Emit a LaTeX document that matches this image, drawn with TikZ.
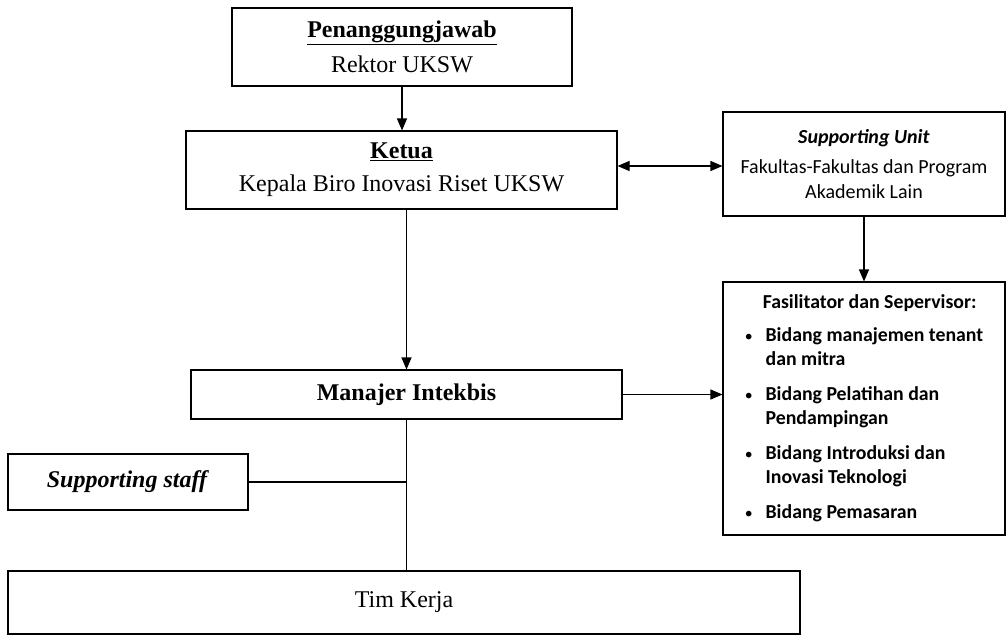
\documentclass[tikz,border=0pt]{standalone}
\usepackage{fontspec}
\setmainfont{Liberation Serif}
\newfontfamily\calfont{Carlito}
\usetikzlibrary{arrows.meta,calc}
\newcommand{\smallbul}{{\mdseries\scalebox{0.8}{•}}}
\begin{document}
\begin{tikzpicture}[x=1pt,y=-1pt,
  box/.style={draw, line width=1.1pt, rectangle, inner sep=0pt, align=center},
  arr/.style={line width=1.1pt, -{Triangle[length=12pt,width=10pt]}},
  arrboth/.style={line width=1.1pt, {Triangle[length=12pt,width=10pt]}-{Triangle[length=12pt,width=10pt]}},
  link/.style={line width=1.1pt},
  serif/.style={font=\fontsize{24}{33}\selectfont},
  calib/.style={font=\calfont\fontsize{20}{25}\selectfont},
]
\useasboundingbox (0,0) rectangle (1007,637);

\node[box, serif, minimum width=340pt, minimum height=78pt] (pj) at (402,47)
  {\underline{\textbf{Penanggungjawab}}\\[2pt]Rektor UKSW};
\node[box, serif, minimum width=431pt, minimum height=78pt] (ketua) at (401.5,170)
  {\underline{\textbf{Ketua}}\\Kepala Biro Inovasi Riset UKSW};
\node[box, calib, minimum width=282pt, minimum height=104pt] (su) at (864,164)
  {\textbf{\textit{Supporting Unit}}\\[5pt]Fakultas-Fakultas dan Program\\Akademik Lain};
\node[box, minimum width=282pt, minimum height=253pt,
      font=\calfont\bfseries\fontsize{19.8}{24}\selectfont] (fas) at (864,408.5)
  {\begin{tabular}{@{}c@{\hspace{13pt}}l@{}}
   \multicolumn{2}{@{}l@{}}{\hspace*{18pt}Fasilitator dan Sepervisor:}\\[9pt]
   \smallbul&Bidang manajemen tenant\\
    &dan mitra\\[11pt]
   \smallbul&Bidang Pelatihan dan\\
    &Pendampingan\\[11pt]
   \smallbul&Bidang Introduksi dan\\
    &Inovasi Teknologi\\[11pt]
   \smallbul&Bidang Pemasaran
   \end{tabular}};
\node[box, serif, minimum width=431pt, minimum height=49pt] (man) at (406.5,394.5)
  {\textbf{Manajer Intekbis}};
\node[box, serif, minimum width=240pt, minimum height=56pt] (ss) at (128,482)
  {\textbf{\textit{Supporting staff}}};
\node[box, serif, minimum width=792pt, minimum height=63pt] (tk) at (404,602.5)
  {Tim Kerja};

\draw[arr] (pj.south) -- (pj.south |- ketua.north);
\draw[arrboth] ([yshift=4pt]ketua.east) -- ([yshift=4pt]ketua.east -| su.west);
\draw[arr] (su.south) -- (su.south |- fas.north);
\draw[arr] (man.north |- ketua.south) -- (man.north);
\draw[arr] (man.east) -- (man.east -| fas.west);
\draw[link] (man.south) -- (man.south |- tk.north);
\coordinate (j) at (man.south |- ss.east);
\draw[link] (ss.east) -- (j);
\end{tikzpicture}
\end{document}
